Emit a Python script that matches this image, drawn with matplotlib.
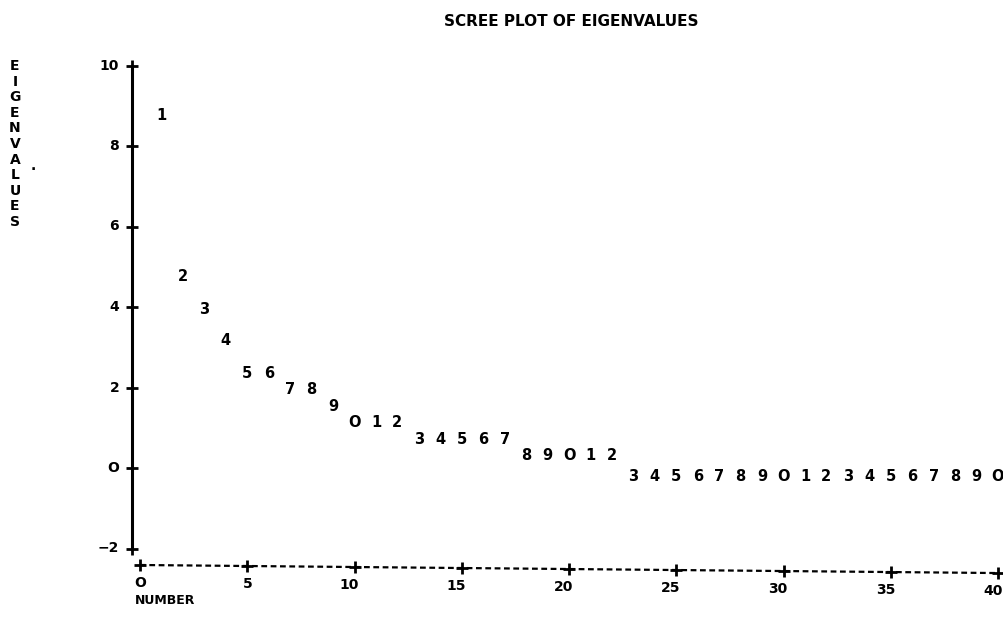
import numpy as np
import matplotlib
matplotlib.use("Agg")
import matplotlib.pyplot as plt

# eigenvalues (components 1..40)
components = np.arange(1, 41)
eigenvalues = [8.77, 4.77, 3.95, 3.16, 2.36, 2.36, 1.94, 1.94, 1.54, 1.12,
               1.12, 1.12, 0.70, 0.70, 0.70, 0.70, 0.70, 0.30, 0.30, 0.30,
               0.30, 0.30] + [-0.22] * 18

x_ticks = [0, 5, 10, 15, 20, 25, 30, 35, 40]
y_ticks = [-2, 0, 2, 4, 6, 8, 10]
y_tick_labels = ["\u22122", "O", "2", "4", "6", "8", "10"]
x_tick_labels = ["O", "5", "10", "15", "20", "25", "30", "35", "40"]

FONT = "DejaVu Sans"

fig = plt.figure(figsize=(10.04, 6.21), dpi=100)
ax = fig.add_axes([0, 0, 1, 1])
# pixel mapping: x_px = 140 + 21.45*x ; y_px = 468 - 40.25*y
ax.set_xlim(-140 / 21.45, (1004 - 140) / 21.45)
ax.set_ylim((468 - 621) / 40.25, 468 / 40.25)
ax.axis("off")

# vertical axis with + ticks
yax_x = -0.37
ax.plot([yax_x, yax_x], [y_ticks[0], y_ticks[-1]], color="black", lw=2.2,
        solid_capstyle="butt")
ax.plot([yax_x] * len(y_ticks), y_ticks, "+", color="black", ms=8, mew=2)
for v, lab in zip(y_ticks, y_tick_labels):
    ax.text(yax_x - 0.6, v, lab, ha="right", va="center", fontsize=10,
            fontweight="bold", family=FONT)

# horizontal axis (dashed, slightly sloping like the printout)
xax_y0, xax_y1 = -2.41, -2.61
ax.plot([0, 40], [xax_y0, xax_y1], color="black", lw=1.6,
        linestyle=(0, (2.6, 1.6)))
tick_y = [xax_y0 + (xax_y1 - xax_y0) * t / 40 for t in x_ticks]
ax.plot(x_ticks, tick_y, "+", color="black", ms=8, mew=2)
for t, ty, lab in zip(x_ticks, tick_y, x_tick_labels):
    shift = 0.25 if len(lab) > 1 else 0
    ax.text(t - shift, ty - 0.45, lab, ha="center", va="center", fontsize=10,
            fontweight="bold", family=FONT)

# the points themselves are the last digit of the component number
for c, ev in zip(components, eigenvalues):
    lab = str(c % 10).replace("0", "O")
    ax.text(c, ev, lab, ha="center", va="center", fontsize=10.5,
            fontweight="bold", family=FONT)

# labels
fig.text(571 / 1004, 1 - 22 / 621, "SCREE PLOT OF EIGENVALUES", ha="center",
         va="center", fontsize=11, fontweight="bold", family=FONT)
for i, ch in enumerate("EIGENVALUES"):
    fig.text(15 / 1004, 1 - (66 + i * 15.6) / 621, ch, ha="center",
             va="center", fontsize=10, fontweight="bold", family=FONT)
fig.text(33 / 1004, 1 - 166 / 621, ".", ha="center", va="center",
         fontsize=10, fontweight="bold", family=FONT)
fig.text(135 / 1004, 1 - 601 / 621, "NUMBER", ha="left", va="center",
         fontsize=9, fontweight="bold", family=FONT)

fig.savefig("out.png", dpi=100, facecolor="white")
